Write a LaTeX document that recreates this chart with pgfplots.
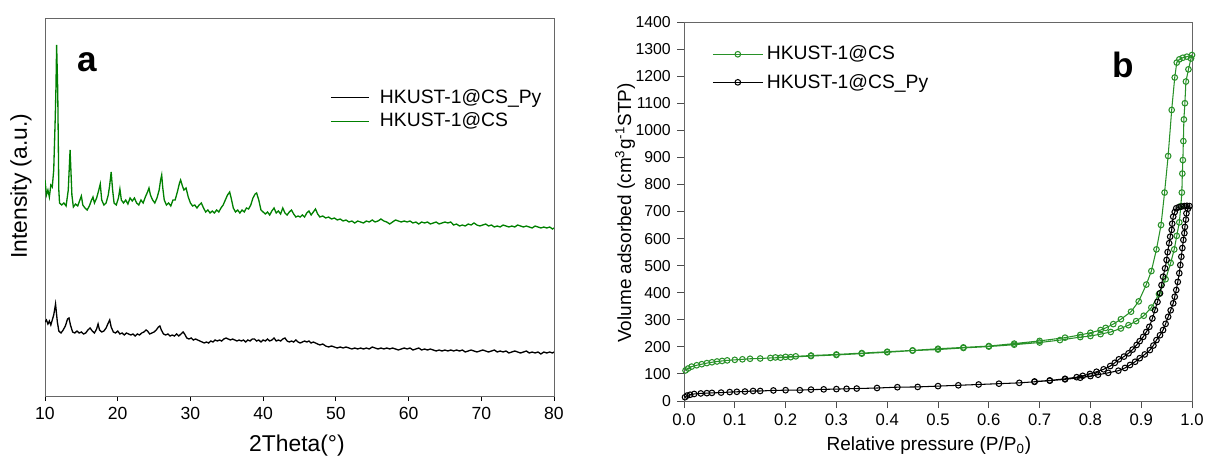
\documentclass[border=0pt]{standalone}
\usepackage{pgfplots}
\pgfplotsset{compat=1.18}
\usepackage{fontspec}
\setmainfont{Liberation Sans}
\definecolor{xgreen}{RGB}{0,128,0}
\definecolor{igreen}{RGB}{40,145,40}
\begin{document}
\begin{tikzpicture}
\path[use as bounding box] (0,0) rectangle (24.1,9.32);
% ---------------- panel a ----------------
\begin{axis}[
  at={(0.90cm,1.40cm)}, anchor=south west, scale only axis,
  width=10.18cm, height=7.56cm,
  xmin=10, xmax=80, ymin=0, ymax=378,
  xtick={10,20,...,80}, ytick=\empty,
  tick align=outside, xtick pos=left, major tick length=0.1cm,
  axis line style={black!60}, tick style={black, line width=0.5pt},
  /pgf/number format/assume math mode=true,
  ticklabel style={font=\fontsize{10}{12}\selectfont},
  xlabel={2Theta(°)}, ylabel={Intensity (a.u.)},
  label style={font=\fontsize{13}{15}\selectfont},
  xlabel style={at={(axis description cs:0.495,-0.132)}, anchor=center},
  ylabel style={at={(axis description cs:-0.047,0.555)}, anchor=center},
  legend style={draw=none, fill=none, at={(axis description cs:0.56,0.822)}, anchor=north west,
    font=\fontsize{11}{13}\selectfont, row sep=0pt, inner sep=0pt},
  legend cell align=left,
  legend image code/.code={\draw[#1, line width=0.5pt] (0cm,0cm) -- (0.76cm,0cm); \path (0.9cm,0cm);},
]
\addplot[black, line width=0.75pt] coordinates {
(10.0,74)(10.2,76)(10.4,72)(10.6,75)(10.8,71)(11.0,76)(11.2,81)(11.45,92)(11.7,74)(11.9,65)
(12.2,63)(12.5,66)(12.8,70)(13.1,77)(13.3,78)(13.5,71)(13.8,64)(14.1,63)(14.4,65)(14.7,63)
(15.0,64)(15.3,62)(15.6,63)(15.9,66)(16.2,68)(16.5,65)(16.8,63)(17.1,67)(17.3,72)(17.5,66)
(17.8,64)(18.1,65)(18.4,68)(18.7,73)(18.9,76)(19.1,69)(19.4,64)(19.7,63)(20.0,65)(20.3,62)
(20.6,63)(20.9,61)(21.2,63)(21.5,62)(21.8,61)(22.1,62)(22.4,60)(22.7,62)(23.0,61)(23.3,63)
(23.6,64)(23.9,66)(24.1,65)(24.4,62)(24.7,63)(25.0,64)(25.3,66)(25.6,69)(25.8,70)(26.0,66)
(26.3,62)(26.6,61)(26.9,62)(27.2,60)(27.5,61)(27.8,60)(28.1,62)(28.4,60)(28.7,62)(29.0,64)
(29.2,62)(29.5,58)(29.8,57)(30.1,58)(30.4,56)(30.7,57)(31.0,56)(31.3,55)(31.6,54)(31.9,53)
(32.2,54)(32.5,53)(32.8,55)(33.1,54)(33.4,56)(33.7,55)(34.0,56)(34.3,55)(34.6,57)(34.9,58)
(35.2,57)(35.5,56)(35.8,57)(36.1,56)(36.4,55)(36.7,56)(37.0,55)(37.3,56)(37.6,54)(37.9,56)
(38.2,55)(38.5,57)(38.8,57)(39.1,55)(39.4,56)(39.7,54)(40.0,56)(40.3,55)(40.6,57)(40.9,55)
(41.2,56)(41.5,58)(41.8,55)(42.1,56)(42.4,55)(42.7,57)(43.0,58)(43.3,55)(43.6,54)(43.9,55)
(44.2,54)(44.5,56)(44.8,54)(45.1,53)(45.4,54)(45.7,55)(46.0,54)(46.3,55)(46.6,53)(46.9,54)
(47.2,53)(47.5,52)(47.8,51)(48.2,52)(48.6,50)(49.0,49)(49.4,50)(49.8,49)(50.2,48)(50.6,49)
(51.0,48)(51.4,49)(51.8,48)(52.2,47)(52.6,48)(53.0,47)(53.4,48)(53.8,47)(54.2,48)(54.6,47)
(55.0,49)(55.4,48)(55.8,47)(56.2,48)(56.6,47)(57.0,48)(57.4,47)(57.8,48)(58.2,47)(58.6,46)
(59.0,47)(59.4,48)(59.8,47)(60.2,48)(60.6,46)(61.0,47)(61.4,48)(61.8,46)(62.2,47)(62.6,46)
(63.0,47)(63.4,46)(63.8,45)(64.2,46)(64.6,45)(65.0,46)(65.4,45)(65.8,46)(66.2,45)(66.6,46)
(67.0,45)(67.4,46)(67.8,44)(68.2,45)(68.6,46)(69.0,45)(69.4,44)(69.8,45)(70.2,46)(70.6,45)
(71.0,44)(71.4,45)(71.8,46)(72.2,44)(72.6,45)(73.0,44)(73.4,45)(73.8,43)(74.2,44)(74.6,45)
(75.0,44)(75.4,43)(75.8,44)(76.2,45)(76.6,43)(77.0,44)(77.4,43)(77.8,44)(78.2,42)(78.6,44)
(79.0,43)(79.4,44)(79.8,43)(80.0,44)
};
\addlegendentry{HKUST-1@CS\_Py}
\addplot[xgreen, line width=0.75pt] coordinates {
(10.0,216)(10.2,201)(10.4,206)(10.6,199)(10.8,211)(11.0,209)(11.2,226)(11.4,276)(11.5,306)(11.6,351)
(11.75,306)(11.9,206)(12.0,193)(12.3,191)(12.6,193)(12.9,190)(13.2,206)(13.45,246)(13.7,201)(13.9,189)
(14.2,192)(14.5,190)(14.8,196)(15.0,200)(15.2,191)(15.5,188)(15.8,186)(16.1,190)(16.4,196)(16.6,199)
(16.8,193)(17.1,198)(17.4,206)(17.6,212)(17.8,196)(18.1,191)(18.4,193)(18.7,201)(18.9,211)(19.1,224)
(19.3,206)(19.5,193)(19.8,191)(20.1,198)(20.3,207)(20.5,196)(20.8,193)(21.1,196)(21.4,192)(21.7,198)
(22.0,195)(22.3,198)(22.6,193)(22.9,191)(23.2,196)(23.5,193)(23.8,199)(24.1,204)(24.3,208)(24.5,201)
(24.8,196)(25.1,193)(25.4,198)(25.7,206)(25.9,216)(26.05,221)(26.2,208)(26.4,196)(26.7,191)(27.0,193)
(27.3,190)(27.6,196)(27.9,196)(28.2,204)(28.5,213)(28.65,216)(28.9,210)(29.1,206)(29.4,208)(29.7,199)
(30.0,193)(30.3,190)(30.6,191)(30.9,188)(31.2,191)(31.5,193)(31.8,188)(32.1,184)(32.4,186)(32.7,183)
(33.0,185)(33.3,183)(33.6,186)(33.9,184)(34.2,188)(34.5,191)(34.8,196)(35.1,201)(35.4,204)(35.6,198)
(35.9,188)(36.2,184)(36.5,186)(36.8,183)(37.1,186)(37.4,184)(37.7,188)(38.0,187)(38.3,191)(38.6,198)
(38.9,202)(39.1,203)(39.4,196)(39.7,186)(40.0,184)(40.3,182)(40.6,184)(40.9,181)(41.2,185)(41.5,188)
(41.8,183)(42.1,185)(42.4,182)(42.7,188)(43.0,183)(43.3,181)(43.6,184)(43.9,186)(44.2,182)(44.5,179)
(44.8,180)(45.1,179)(45.4,181)(45.7,179)(46.0,183)(46.3,185)(46.6,181)(46.9,184)(47.2,187)(47.5,182)
(47.8,179)(48.2,180)(48.6,178)(49.0,179)(49.4,177)(49.8,178)(50.2,176)(50.6,177)(51.0,175)(51.4,176)
(51.8,174)(52.2,175)(52.6,173)(53.0,175)(53.4,174)(53.8,173)(54.2,175)(54.6,174)(55.0,176)(55.4,174)
(55.8,175)(56.2,177)(56.6,175)(57.0,174)(57.4,172)(57.8,174)(58.2,176)(58.6,175)(59.0,174)(59.4,175)
(59.8,174)(60.2,175)(60.6,173)(61.0,174)(61.4,172)(61.8,174)(62.2,173)(62.6,174)(63.0,172)(63.4,173)
(63.8,174)(64.2,172)(64.6,173)(65.0,174)(65.4,173)(65.8,174)(66.2,171)(66.6,172)(67.0,170)(67.4,171)
(67.8,170)(68.2,172)(68.6,171)(69.0,173)(69.4,171)(69.8,170)(70.2,171)(70.6,172)(71.0,170)(71.4,171)
(71.8,169)(72.2,170)(72.6,169)(73.0,171)(73.4,170)(73.8,169)(74.2,170)(74.6,169)(75.0,171)(75.4,170)
(75.8,169)(76.2,170)(76.6,169)(77.0,168)(77.4,170)(77.8,169)(78.2,168)(78.6,169)(79.0,168)(79.4,169)
(79.8,167)(80.0,168)
};
\addlegendentry{HKUST-1@CS}
\node[font=\bfseries\fontsize{20}{20}\selectfont] at (rel axis cs:0.084,0.884) {a};
\end{axis}
% ---------------- panel b ----------------
\begin{axis}[
  at={(13.68cm,1.30cm)}, anchor=south west, scale only axis,
  width=10.16cm, height=7.58cm,
  xmin=0, xmax=1, ymin=0, ymax=1400,
  xtick={0,0.1,...,1.0}, ytick={0,100,...,1400},
  tick align=outside, xtick pos=left, ytick pos=left, major tick length=0.14cm,
  axis line style={black!60}, tick style={black!70, line width=0.5pt},
  scaled ticks=false,
  /pgf/number format/assume math mode=true,
  /pgf/number format/1000 sep={},
  xticklabel style={font=\fontsize{9.5}{11}\selectfont, /pgf/number format/.cd, fixed, fixed zerofill, precision=1},
  yticklabel style={font=\fontsize{9}{11}\selectfont},
  xlabel={Relative pressure (P/P\textsubscript{0})},
  ylabel={Volume adsorbed (cm\textsuperscript{3}g\textsuperscript{-1}STP)},
  label style={font=\fontsize{10.8}{13}\selectfont},
  xlabel style={at={(axis description cs:0.482,-0.118)}, anchor=center},
  ylabel style={at={(axis description cs:-0.116,0.496)}, anchor=center},
  legend style={draw=none, fill=none, at={(axis description cs:0.055,0.947)}, anchor=north west,
    font=\fontsize{11}{13}\selectfont, row sep=2.5pt, inner sep=0pt},
  legend cell align=left,
  legend image code/.code={\draw[mark repeat=2,mark phase=2,#1] plot coordinates {(0cm,0cm) (0.5cm,0cm) (1.0cm,0cm)};},
]
\addplot[igreen, line width=0.6pt, mark=o, mark size=1.6pt, mark options={fill=white}] coordinates {
(0.003,113)(0.008,120)(0.015,127)(0.025,132)(0.035,136)(0.045,140)(0.055,143)(0.065,146)(0.075,148)(0.085,150)
(0.1,152)(0.115,154)(0.13,156)(0.15,157)(0.17,159)(0.19,160)(0.21,162)(0.25,166)(0.3,170)(0.35,175)
(0.4,180)(0.45,186)(0.5,190)(0.55,196)(0.6,201)(0.65,208)(0.7,216)(0.74,225)(0.78,236)(0.8,240)
(0.82,247)(0.84,255)(0.86,268)(0.875,280)(0.89,295)(0.905,315)(0.92,345)(0.935,395)(0.948,450)(0.958,510)
(0.965,560)(0.97,610)(0.975,660)(0.978,720)(0.98,770)(0.981,840)(0.982,890)(0.983,960)(0.984,1040)(0.986,1100)
(0.988,1180)(0.993,1225)(0.998,1265)(1.0,1278)
(0.99,1272)(0.982,1268)(0.975,1262)(0.97,1250)(0.966,1195)(0.96,1075)(0.953,905)(0.946,770)(0.939,650)(0.93,560)
(0.92,480)(0.91,430)(0.895,368)(0.88,330)(0.86,302)(0.845,284)(0.83,270)(0.82,262)(0.8,252)(0.78,244)
(0.75,234)(0.7,222)(0.65,212)(0.6,203)(0.55,198)(0.5,193)(0.45,187)(0.4,182)(0.35,177)(0.3,172)
(0.25,168)(0.22,165)(0.2,163)(0.18,161)
};
\addlegendentry{HKUST-1@CS}
\addplot[black, line width=0.6pt, mark=o, mark size=1.6pt, mark options={fill=white}] coordinates {
(0.002,14)(0.006,20)(0.012,23)(0.02,26)(0.033,28)(0.045,29)(0.055,30)(0.073,31)(0.09,33)(0.104,34)
(0.12,35)(0.136,37)(0.15,37)(0.176,39)(0.2,40)(0.228,40)(0.25,42)(0.275,43)(0.3,44)(0.32,45)
(0.34,46)(0.38,48)(0.42,51)(0.46,52)(0.5,55)(0.54,58)(0.58,61)(0.62,64)(0.66,67)(0.69,71)
(0.72,75)(0.75,80)(0.78,86)(0.8,92)(0.815,97)(0.835,104)(0.855,112)(0.868,122)(0.878,133)(0.888,145)
(0.897,158)(0.907,172)(0.917,188)(0.924,205)(0.93,225)(0.937,243)(0.943,262)(0.948,285)(0.953,311)(0.958,335)
(0.963,361)(0.966,385)(0.969,410)(0.972,440)(0.975,472)(0.977,502)(0.979,533)(0.981,565)(0.983,595)(0.985,620)
(0.986,643)(0.988,670)(0.989,693)(0.992,710)(0.995,720)
(0.99,721)(0.985,720)(0.979,718)(0.974,716)(0.969,712)(0.966,698)(0.963,681)(0.961,655)(0.96,632)(0.957,607)
(0.955,583)(0.952,550)(0.95,521)(0.947,490)(0.943,459)(0.94,428)(0.937,398)(0.932,366)(0.927,336)(0.922,305)
(0.916,274)(0.91,255)(0.904,237)(0.897,221)(0.891,207)(0.883,190)(0.875,176)(0.866,164)(0.856,154)(0.848,141)
(0.839,129)(0.826,117)(0.812,108)(0.799,100)(0.785,93)(0.773,88)(0.75,82)(0.72,76)(0.69,72)
};
\addlegendentry{HKUST-1@CS\_Py}
\node[font=\bfseries\fontsize{20}{20}\selectfont] at (rel axis cs:0.864,0.887) {b};
\end{axis}
\end{tikzpicture}
\end{document}
